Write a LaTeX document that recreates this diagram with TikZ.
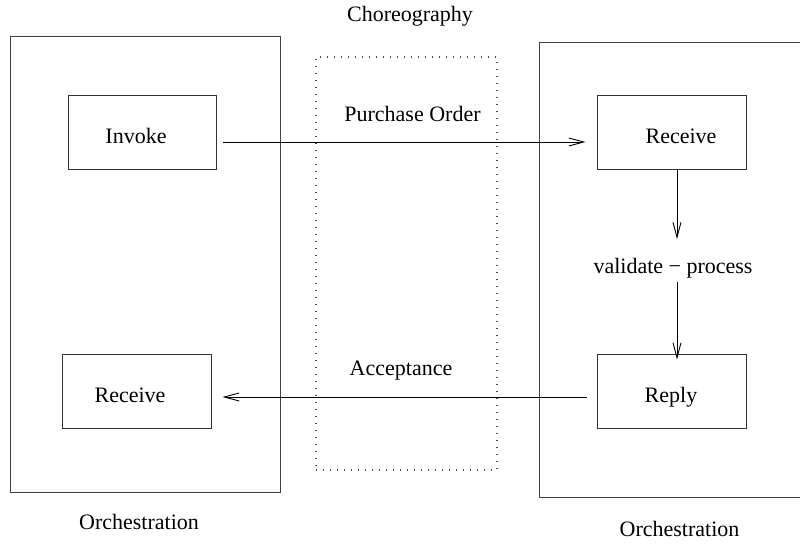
\documentclass[tikz,border=0pt]{standalone}
\usepackage{fontspec}
\setmainfont{Liberation Serif}
\usetikzlibrary{arrows.meta}
\begin{document}
\begin{tikzpicture}[x=1pt,y=-1pt,
  every node/.style={font=\fontsize{22}{26}\selectfont},
  frame/.style={draw=black!75, line width=1pt, inner sep=0pt},
  act/.style={draw=black!80, line width=1pt, inner sep=0pt, minimum height=74pt},
  txt/.style={anchor=base, inner sep=0pt},
  arr/.style={draw=black, line width=0.9pt, -{Straight Barb[length=15pt,width=8pt,line width=0.9pt]}},
  dotbox/.style={draw=black!70, line width=1.3pt, dash pattern=on 1.3pt off 5.7pt, inner sep=0pt}]
\useasboundingbox (0,0) rectangle (800,547);
% outer frames
\node[frame, minimum width=270pt, minimum height=456pt] (lorch) at (145,264) {};
\node[frame, minimum width=262pt, minimum height=455pt] (rorch) at (670,269.5) {};
\node[dotbox, minimum width=181pt, minimum height=413pt] (chor) at (406.5,263.5) {};
% activity boxes
\node[act, minimum width=148pt] (inv) at (142,132) {};
\node[act, minimum width=149pt] (lrec) at (136.5,391) {};
\node[act, minimum width=149pt] (rrec) at (671.5,132) {};
\node[act, minimum width=149pt] (rep) at (671.5,391) {};
% texts
\node[txt] (tinv) at (136,143) {Invoke};
\node[txt] (tlrec) at (130,402) {Receive};
\node[txt] (trrec) at (681,143) {Receive};
\node[txt] (trep) at (671,402) {Reply};
\node[txt] (tchor) at (410,21) {Choreography};
\node[txt] (tlorch) at (139,529) {Orchestration};
\node[txt] (trorch) at (679.5,536) {Orchestration};
\node[txt] (tpo) at (412.5,121) {Purchase Order};
\node[txt] (tacc) at (401,375) {Acceptance};
\node[txt] (tval) at (673,273) {validate − process};
% connectors
\draw[arr] ([shift={(6,10)}]inv.east) -- ([shift={(-11,10)}]rrec.west);
\draw[arr] ([shift={(-10,6)}]rep.west) -- ([shift={(11,6)}]lrec.east);
\coordinate (v1) at (677,239);
\coordinate (v2) at (677,282);
\draw[arr] (rrec.south -| v1) -- (v1);
\draw[arr] (v2) -- ([yshift=-6pt]rep.north -| v2);
\end{tikzpicture}
\end{document}
